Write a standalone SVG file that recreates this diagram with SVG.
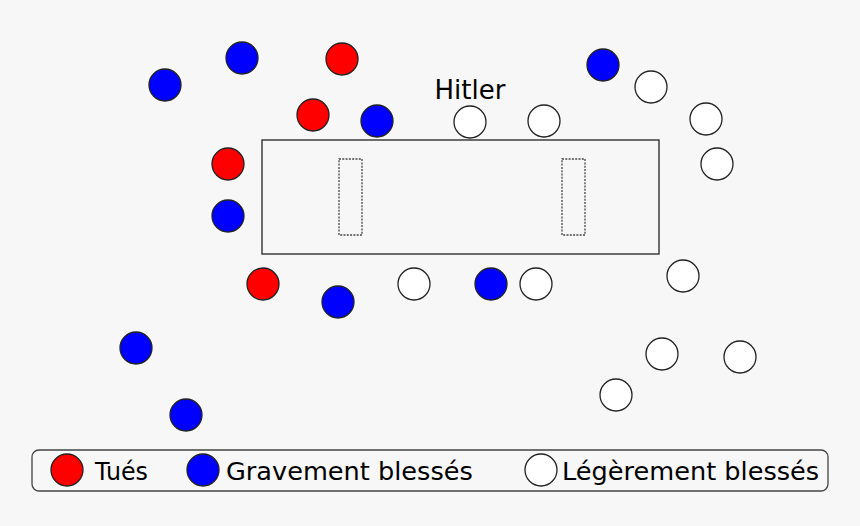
<svg xmlns="http://www.w3.org/2000/svg" width="860" height="526" viewBox="0 0 860 526">
<style>
.p{stroke:#222;stroke-width:1.3}
.k{fill:#ff0000}
.g{fill:#0000ff}
.w{fill:#ffffff}
.t{font-family:"DejaVu Sans",sans-serif;fill:#000}
</style>
<rect width="860" height="526" fill="#f7f7f7"/>
<g id="table">
<rect x="262" y="140" width="397" height="114" fill="none" stroke="#222" stroke-width="1.3"/>
<rect x="339" y="159" width="23" height="76" fill="none" stroke="#444" stroke-width="1.3" stroke-dasharray="2,1.3"/>
<rect x="562" y="159" width="23" height="76" fill="none" stroke="#444" stroke-width="1.3" stroke-dasharray="2,1.3"/>
</g>
<g id="hitler"><text class="t" x="470" y="99" font-size="26" text-anchor="middle">Hitler</text></g>
<g id="killed">
<circle class="p k" cx="342" cy="59" r="16"/>
<circle class="p k" cx="313" cy="115" r="16"/>
<circle class="p k" cx="228" cy="164" r="16"/>
<circle class="p k" cx="263" cy="284" r="16"/>
</g>
<g id="severe">
<circle class="p g" cx="165" cy="85" r="16"/>
<circle class="p g" cx="242" cy="58" r="16"/>
<circle class="p g" cx="377" cy="121" r="16"/>
<circle class="p g" cx="228" cy="216" r="16"/>
<circle class="p g" cx="338" cy="302" r="16"/>
<circle class="p g" cx="491" cy="284" r="16"/>
<circle class="p g" cx="136" cy="348" r="16"/>
<circle class="p g" cx="186" cy="415" r="16"/>
<circle class="p g" cx="603" cy="65" r="16"/>
</g>
<g id="light">
<circle class="p w" cx="470" cy="122" r="16"/>
<circle class="p w" cx="544" cy="121" r="16"/>
<circle class="p w" cx="651" cy="87" r="16"/>
<circle class="p w" cx="706" cy="119" r="16"/>
<circle class="p w" cx="717" cy="164" r="16"/>
<circle class="p w" cx="414" cy="284" r="16"/>
<circle class="p w" cx="536" cy="284" r="16"/>
<circle class="p w" cx="683" cy="276" r="16"/>
<circle class="p w" cx="662" cy="354" r="16"/>
<circle class="p w" cx="740" cy="357" r="16"/>
<circle class="p w" cx="616" cy="395" r="16"/>
</g>
<g id="legend">
<rect x="32" y="450" width="796" height="41" rx="7" fill="none" stroke="#444" stroke-width="1.3"/>
<circle class="p k" cx="67" cy="470" r="16"/>
<text class="t" x="95" y="480" font-size="25.6" textLength="53" lengthAdjust="spacingAndGlyphs">Tués</text>
<circle class="p g" cx="203" cy="470" r="16"/>
<text class="t" x="226" y="480" font-size="25.6">Gravement blessés</text>
<circle class="p w" cx="541" cy="470" r="16"/>
<text class="t" x="562" y="480" font-size="25.6">Légèrement blessés</text>
</g>
</svg>
